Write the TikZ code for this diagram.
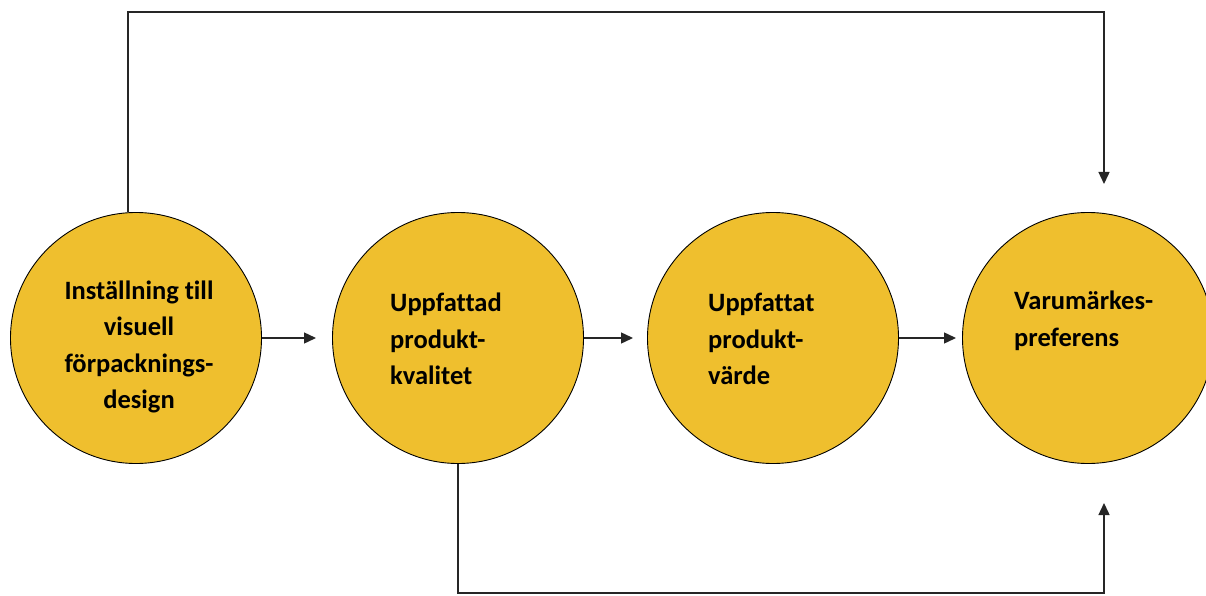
\documentclass[tikz,border=0pt]{standalone}
\usepackage{fontspec}
\setmainfont{Carlito}[Ligatures=CommonOff]
\usetikzlibrary{arrows.meta}
\definecolor{gold}{RGB}{239,191,46}
\begin{document}
\begin{tikzpicture}[x=1pt,y=-1pt,
  bubble/.style={circle,draw=black,line width=0.9pt,fill=gold,minimum size=251pt,inner sep=0pt},
  label/.style={font=\fontsize{26.5}{36.5}\selectfont\bfseries,inner sep=0pt},
  link/.style={line width=1.4pt,draw=black!85},
  arr/.style={link,-{Triangle[length=12pt,width=11pt]}}]
\useasboundingbox (0,0) rectangle (1206,596);
% the four stages
\node[bubble] (c1) at (136,338) {};
\node[bubble] (c2) at (458,338) {};
\node[bubble] (c3) at (773,338) {};
\node[bubble] (c4) at (1088,338) {};
% their texts
\node[label,align=center] (t1) at (139,347) {Inställning till\\visuell\\förpacknings-\\design};
\node[label,align=left,anchor=west] (t2) at (390,339) {Uppfattad\\produkt-\\kvalitet};
\node[label,align=left,anchor=west] (t3) at (708,339) {Uppfattat\\produkt-\\värde};
\node[label,align=left,anchor=west] (t4) at (1014,321) {Varumärkes-\\preferens};
% free ends of the connectors
\coordinate (e1) at (316,338);
\coordinate (e2) at (633,338);
\coordinate (e3) at (956,338);
\coordinate (top) at (1104,184);
\coordinate (bot) at (1104,503);
% chain of arrows
\draw[arr] (c1.east) -- (e1);
\draw[arr] (c2.east) -- (e2);
\draw[arr] (c3.east) -- (e3);
% loops over the top and under the bottom
\draw[arr] (c1.north -| 128,0) -- (128,12) -- (1104,12) -- (top);
\draw[arr] (c2.south) -- (458,593) -- (1104,593) -- (bot);
\end{tikzpicture}
\end{document}
